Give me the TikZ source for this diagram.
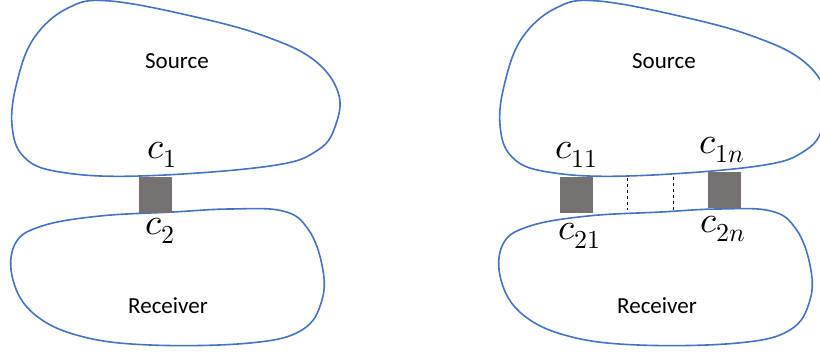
\documentclass[tikz,border=0pt]{standalone}
\usepackage{fontspec}
\setmainfont{Carlito}
\usepackage{unicode-math}
\setmathfont{Latin Modern Math}
\begin{document}
\begin{tikzpicture}[x=1pt,y=-1pt,
  blob/.style={draw={rgb,255:red,68;green,114;blue,196}, line width=1.6pt},
  gate/.style={fill={rgb,255:red,118;green,113;blue,113}, draw=none, inner sep=0pt, minimum width=33pt, minimum height=36pt},
  lbl/.style={font=\fontsize{23}{26}\selectfont, inner sep=0pt},
  mlbl/.style={font=\fontsize{37}{40}\selectfont, inner sep=0pt},
  sep/.style={draw=black, dashed, line width=0.8pt}]
\useasboundingbox (0,0) rectangle (820,353);
\clip (0,0) rectangle (820,353);
\foreach \s in {0,488}{
\begin{scope}[xshift=\s pt]
\draw[blob] plot[smooth cycle, tension=0.65] coordinates {
 (24,157) (12,125) (17,82) (34,38) (68,8) (110,1) (200,18) (267,37) (314,60) (338,92) (336,124) (318,150) (270,166) (140,176) (60,172)};
\draw[blob] plot[smooth cycle, tension=0.65] coordinates {
 (15,244) (42,226) (100,216) (173,212) (230,209) (283,211) (308,229) (322,265) (322,300) (302,330) (250,343) (150,345) (80,336) (34,314) (13,280)};
\end{scope}}
% left figure
\node[lbl] (srcL) at (177,61) {Source};
\node[lbl] (rcvL) at (168,306) {Receiver};
\node[gate] (gL) at (155.5,195) {};
\node[mlbl] (c1) at (162,155) {$c_1$};
\node[mlbl] (c2) at (160,231) {$c_2$};
% right figure
\node[lbl] (srcR) at (664,61) {Source};
\node[lbl] (rcvR) at (657,306) {Receiver};
\node[gate] (gR1) at (576,195) {};
\node[gate] (gRn) at (724,190) {};
\coordinate (d1t) at (627,178);
\coordinate (d1b) at (627,210);
\coordinate (d2t) at (673,177);
\coordinate (d2b) at (673,210);
\draw[sep] (d1t) -- (d1b);
\draw[sep] (d2t) -- (d2b);
\node[mlbl] (c11) at (577,155) {$c_{11}$};
\node[mlbl] (c1n) at (722,150) {$c_{1n}$};
\node[mlbl] (c21) at (580,236) {$c_{21}$};
\node[mlbl] (c2n) at (723,229) {$c_{2n}$};
\end{tikzpicture}
\end{document}
